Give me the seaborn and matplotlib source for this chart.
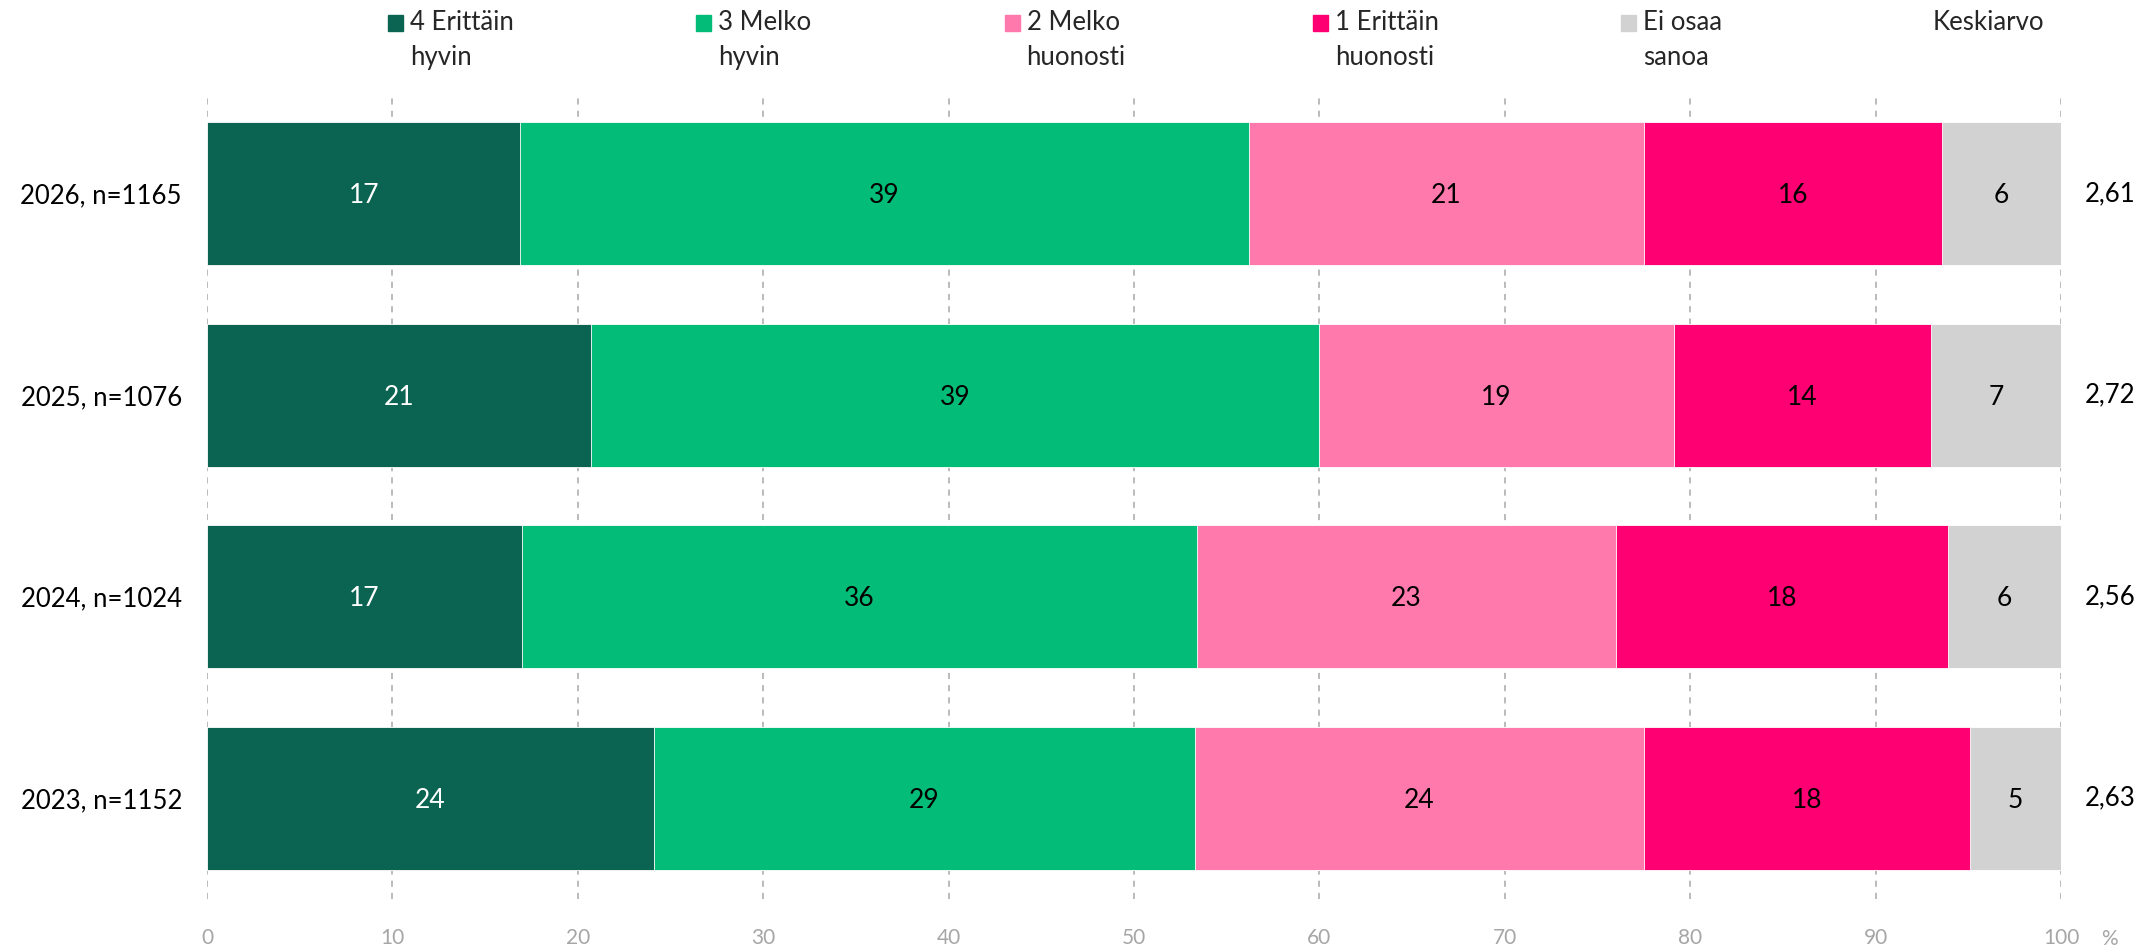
import matplotlib
matplotlib.use("Agg")
import matplotlib.pyplot as plt
from matplotlib.patches import Rectangle
import seaborn as sns
import pandas as pd
import numpy as np

# data (percent shares per year)
years = ["2026, n=1165", "2025, n=1076", "2024, n=1024", "2023, n=1152"]
answers = ["4 Erittäin\nhyvin", "3 Melko\nhyvin", "2 Melko\nhuonosti",
           "1 Erittäin\nhuonosti", "Ei osaa\nsanoa"]
very_well = [16.9, 20.7, 17.0, 24.1]
fairly_well = [39.3, 39.3, 36.4, 29.2]
fairly_badly = [21.3, 19.1, 22.6, 24.2]
very_badly = [16.1, 13.9, 17.9, 17.6]
dont_know = [6.4, 7.0, 6.1, 4.9]
means = ["2,61", "2,72", "2,56", "2,63"]

colors = ["#0B6352", "#02BC77", "#FF79AD", "#FF0072", "#D2D2D2"]
label_colors = ["white", "black", "black", "black", "black"]

sns.set_theme(style="white")
plt.rcParams["font.family"] = ["Lato", "DejaVu Sans"]

df = pd.DataFrame({"year": years})
series = [very_well, fairly_well, fairly_badly, very_badly, dont_know]
for name, vals in zip(answers, series):
    df[name] = vals
cum = df[answers].cumsum(axis=1)

fig = plt.figure(figsize=(21.53, 9.5), dpi=100)
ax = fig.add_axes([207 / 2153, 1 - 899 / 950, (2061 - 207) / 2153, (899 - 93) / 950])

# draw cumulative totals from right to left so each layer shows one segment
for name, col in reversed(list(zip(answers, colors))):
    sns.barplot(x=cum[name], y=df["year"], color=col, orient="h", width=0.71,
                saturation=1, edgecolor="white", linewidth=0.6, ax=ax, zorder=2)

for j, (name, tcol) in enumerate(zip(answers, label_colors)):
    for i in range(len(years)):
        v = df[name].iloc[i]
        ax.text(cum[name].iloc[i] - v / 2, i + 0.01, f"{round(v):.0f}", ha="center",
                va="center", fontsize=19, color=tcol, zorder=3)

for i, m in enumerate(means):
    ax.text(101.3, i, m, ha="left", va="center", fontsize=18.5, color="black")

ax.set_xlim(0, 100)
ax.set_ylim(3.5, -0.5)
ax.set_xticks(np.arange(0, 101, 10))
ax.grid(axis="x", color="#A8A8A8", linestyle=(0, (4, 4)), linewidth=1.1, zorder=0)
ax.grid(axis="y", visible=False)
ax.set_axisbelow(True)
for s in ax.spines.values():
    s.set_visible(False)
ax.set_xlabel("")
ax.set_ylabel("")
ax.tick_params(axis="x", length=0, pad=21, labelsize=15, labelcolor="#A6A6A6")
ax.tick_params(axis="y", length=0, pad=18, labelsize=18.5, labelcolor="black")
ax.text(102.6, -0.05, "%", transform=ax.get_xaxis_transform(), ha="center",
        va="center", fontsize=15, color="#A6A6A6")

# legend across the top
x0, step = 388, 308.3
for j, (name, col) in enumerate(zip(answers, colors)):
    xm = x0 + j * step
    fig.add_artist(Rectangle((xm / 2153, 1 - 31 / 950), 15 / 2153, 16 / 950,
                             color=col, transform=fig.transFigure))
    fig.text((xm + 22) / 2153, 1 - 10 / 950, name, ha="left", va="top",
             fontsize=18.5, linespacing=1.5)
fig.text(1933 / 2153, 1 - 10 / 950, "Keskiarvo", ha="left", va="top", fontsize=18.5)

fig.savefig("out.png", dpi=100)
